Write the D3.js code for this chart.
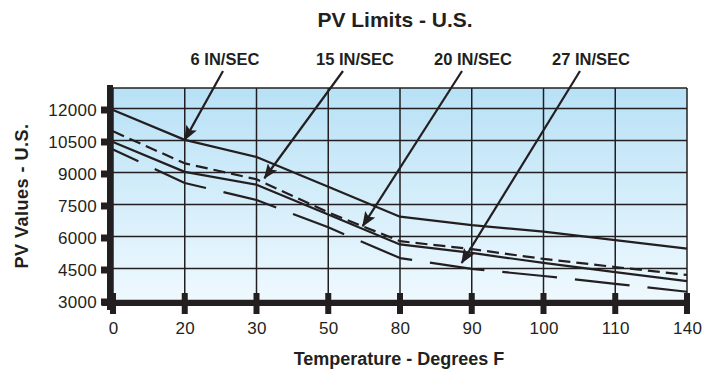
<!DOCTYPE html>
<html>
<head>
<meta charset="utf-8">
<script src="https://cdn.jsdelivr.net/npm/d3@7/dist/d3.min.js"></script>
<style>
  html, body { margin: 0; padding: 0; background: #ffffff; }
  svg { display: block; }
  text { font-family: "Liberation Sans", Arial, Helvetica, sans-serif; fill: #231f20; }
</style>
</head>
<body>
<svg id="chart" width="706" height="373"></svg>
<script>
// ---------------- data ----------------
const categories = ["0", "20", "30", "50", "80", "90", "100", "110", "140"];
const yTicks = [3000, 4500, 6000, 7500, 9000, 10500, 12000];

const series6  = [12000, 10600, 9800, 8400, 7000, 6600, 6300, 5900, 5500]; // solid (top)
const series15 = [11000, 9500, 8750, 7200, 5850, 5480, 5020, 4640, 4270]; // short dash
const series20 = [10500, 9100, 8500, 7100, 5700, 5300, 4830, 4400, 3980]; // solid
const series27 = [10150, 8580, 7780, 6500, 5060, 4550, 4220, 3850, 3480]; // long dash

const annLabels = ["6 IN/SEC", "15 IN/SEC", "20 IN/SEC", "27 IN/SEC"];
const annTargetIndex = [1.0, 2.11, 3.48, 4.86];   // position along category axis
const annTargetValue = [10600, 8800, 6560, 4830];

const title = "PV Limits - U.S.";
const xTitle = "Temperature - Degrees F";
const yTitle = "PV Values - U.S.";

// ---------------- layout ----------------
const W = 706, H = 373;
const plot = { left: 113, right: 687, top: 88, bottom: 302 };
const ink = "#231f20";

const svg = d3.select("#chart");

const x = d3.scalePoint().domain(categories).range([plot.left, plot.right]);
const y = d3.scaleLinear().domain([3000, 12000]).range([302, 110]);
const step = x.step();
const xAt = (fi) => x(categories[Math.floor(fi)]) + (fi - Math.floor(fi)) * step;

// background gradient
const defs = svg.append("defs");
const grad = defs.append("linearGradient").attr("id", "bg").attr("x1", 0).attr("y1", 0).attr("x2", 0).attr("y2", 1);
grad.append("stop").attr("offset", "0%").attr("stop-color", "#b8e1f6");
grad.append("stop").attr("offset", "100%").attr("stop-color", "#eff9fe");

defs.append("marker")
  .attr("id", "arrow").attr("viewBox", "0 0 15 12")
  .attr("refX", 14).attr("refY", 6)
  .attr("markerWidth", 15).attr("markerHeight", 12)
  .attr("markerUnits", "userSpaceOnUse")
  .attr("orient", "auto")
  .append("path").attr("d", "M0,0 L15,6 L0,12 L3,6 Z").attr("fill", ink);

svg.append("rect")
  .attr("x", plot.left).attr("y", plot.top)
  .attr("width", plot.right - plot.left).attr("height", plot.bottom - plot.top)
  .attr("fill", "url(#bg)");

// grid
const grid = svg.append("g").attr("stroke", ink).attr("stroke-width", 1.5);
grid.selectAll("line.h").data(yTicks).join("line")
  .attr("x1", plot.left).attr("x2", plot.right)
  .attr("y1", d => y(d) - 1.5).attr("y2", d => y(d) - 1.5);
grid.append("line").attr("x1", plot.left).attr("x2", plot.right)
  .attr("y1", plot.top).attr("y2", plot.top);
grid.selectAll("line.v").data(categories).join("line")
  .attr("x1", d => x(d)).attr("x2", d => x(d))
  .attr("y1", plot.top).attr("y2", plot.bottom);

// series lines
const line = d3.line().x((d, i) => x(categories[i])).y(d => y(d));
const lines = svg.append("g").attr("fill", "none").attr("stroke", ink)
  .attr("stroke-width", 2.2).attr("stroke-linejoin", "round");
lines.append("path").attr("d", line(series6));
lines.append("path").attr("d", line(series15)).attr("stroke-dasharray", "12,6");
lines.append("path").attr("d", line(series20));
lines.append("path").attr("d", line(series27)).attr("stroke-dasharray", "55,18").attr("stroke-dashoffset", 27);

// axes: thick bars
svg.append("rect").attr("x", plot.left - 6).attr("y", plot.top - 3)
  .attr("width", 6).attr("height", 310 - (plot.top - 3)).attr("fill", ink);
svg.append("rect").attr("x", plot.left - 11).attr("y", 300)
  .attr("width", plot.right + 3 - (plot.left - 11)).attr("height", 6).attr("fill", ink);

// tick markers
svg.append("g").selectAll("rect").data(yTicks).join("rect")
  .attr("x", plot.left - 12).attr("y", d => y(d) - 3.5)
  .attr("width", 7).attr("height", 7).attr("fill", ink);
svg.append("g").selectAll("rect").data(categories).join("rect")
  .attr("x", d => x(d) - 3).attr("y", 293)
  .attr("width", 6).attr("height", 21).attr("fill", ink);

// axis labels via d3 axes
const yAxis = svg.append("g").attr("transform", `translate(${plot.left},0)`)
  .call(d3.axisLeft(y).tickValues(yTicks).tickSize(0).tickPadding(16).tickFormat(d3.format("d")));
yAxis.select(".domain").remove();
yAxis.selectAll("text").style("font-size", "17px").style("letter-spacing", "0.3px")
  .style("font-family", "'Liberation Sans', Arial, sans-serif").attr("fill", ink);

const xAxis = svg.append("g").attr("transform", `translate(0,303)`)
  .call(d3.axisBottom(x).tickSize(0).tickPadding(19));
xAxis.select(".domain").remove();
xAxis.selectAll("text").style("font-size", "17px").style("letter-spacing", "0.3px")
  .style("font-family", "'Liberation Sans', Arial, sans-serif").attr("fill", ink);

// titles
svg.append("text").attr("x", 395).attr("y", 27).attr("text-anchor", "middle")
  .style("font-size", "21px").style("font-weight", "bold").text(title);
svg.append("text").attr("x", 399).attr("y", 365).attr("text-anchor", "middle")
  .style("font-size", "18px").style("font-weight", "bold").text(xTitle);
svg.append("text").attr("transform", "translate(28,196) rotate(-90)").attr("text-anchor", "middle")
  .style("font-size", "18px").style("font-weight", "bold").style("letter-spacing", "0.5px").text(yTitle);

// annotations
const labelX = [225, 355, 473, 591];
const startX = [223, 343, 462, 580];
const ann = svg.append("g");
annLabels.forEach((lab, i) => {
  ann.append("text").attr("x", labelX[i]).attr("y", 65).attr("text-anchor", "middle")
    .style("font-size", "16.5px").style("font-weight", "bold").text(lab);
  ann.append("line")
    .attr("x1", startX[i]).attr("y1", 71)
    .attr("x2", xAt(annTargetIndex[i])).attr("y2", y(annTargetValue[i]))
    .attr("stroke", ink).attr("stroke-width", 2.2)
    .attr("marker-end", "url(#arrow)");
});
</script>
</body>
</html>
